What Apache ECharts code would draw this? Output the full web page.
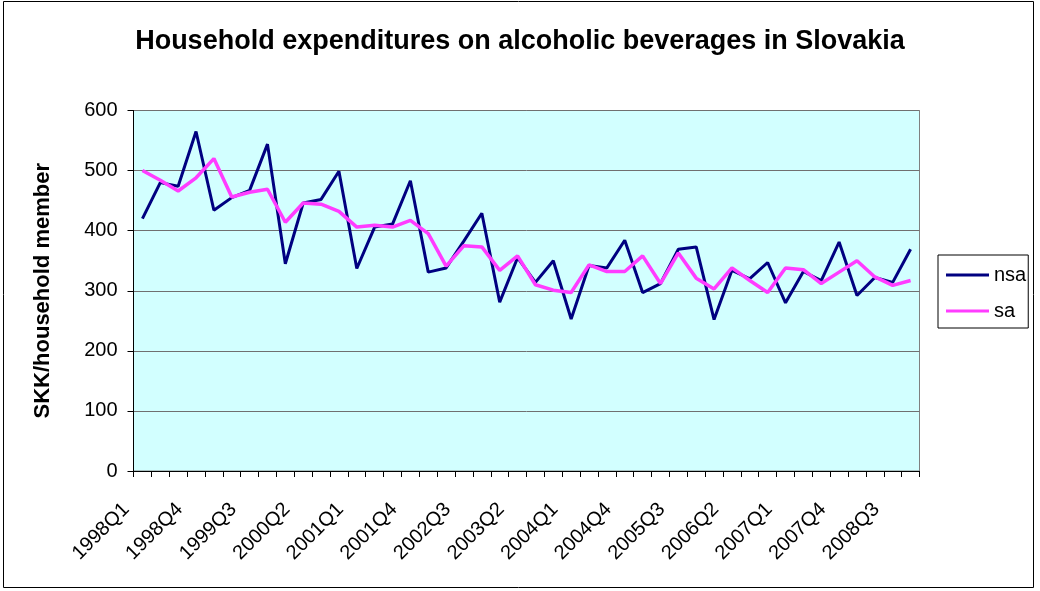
<!DOCTYPE html>
<html>
<head>
<meta charset="utf-8">
<script src="https://cdn.jsdelivr.net/npm/echarts@6/dist/echarts.min.js"></script>
<style>
  html, body { margin: 0; padding: 0; background: #ffffff; }
  #chart { width: 1040px; height: 591px; }
</style>
</head>
<body>
<div id="chart"></div>
<script>
// Quarterly periods
const quarters = [
  '1998Q1','1998Q2','1998Q3','1998Q4','1999Q1','1999Q2','1999Q3','1999Q4',
  '2000Q1','2000Q2','2000Q3','2000Q4','2001Q1','2001Q2','2001Q3','2001Q4',
  '2002Q1','2002Q2','2002Q3','2002Q4','2003Q1','2003Q2','2003Q3','2003Q4',
  '2004Q1','2004Q2','2004Q3','2004Q4','2005Q1','2005Q2','2005Q3','2005Q4',
  '2006Q1','2006Q2','2006Q3','2006Q4','2007Q1','2007Q2','2007Q3','2007Q4',
  '2008Q1','2008Q2','2008Q3','2008Q4'
];

// Not seasonally adjusted (SKK per household member)
const nsa = [
  420, 480, 474, 565, 434, 455, 467, 544, 345, 446, 452, 499,
  337, 406, 411, 483, 331, 338, 383, 429, 281, 355, 314, 350,
  253, 342, 338, 384, 297, 312, 369, 373, 252, 334, 320, 347,
  280, 332, 317, 381, 292, 322, 314, 369
];

// Seasonally adjusted (SKK per household member)
const sa = [
  500, 484, 466, 488, 520, 456, 464, 469, 414, 446, 444, 432,
  406, 409, 406, 417, 395, 341, 375, 373, 334, 358, 310, 301,
  297, 343, 332, 332, 358, 312, 363, 321, 303, 338, 317, 297,
  338, 335, 312, 331, 350, 323, 309, 317
];

const FONT = 'Arial, "Liberation Sans", sans-serif';

const chart = echarts.init(document.getElementById('chart'), null, { renderer: 'canvas' });

chart.setOption({
  animation: false,
  backgroundColor: '#ffffff',
  textStyle: { fontFamily: FONT, color: '#000' },
  title: {
    text: 'Household expenditures on alcoholic beverages in Slovakia',
    left: 'center',
    top: 23,
    textStyle: { fontFamily: FONT, fontSize: 27, fontWeight: 'bold', color: '#000' }
  },
  graphic: [{
    type: 'rect',
    shape: { x: 3.5, y: 1.5, width: 1030, height: 586 },
    style: { fill: 'none', stroke: '#000', lineWidth: 1 },
    silent: true,
    z: 100
  }],
  legend: {
    orient: 'vertical',
    left: 938,
    top: 255,
    padding: [10, 2, 7, 8],
    itemGap: 16,
    itemWidth: 43,
    itemHeight: 3,
    borderColor: '#000',
    borderWidth: 1,
    textStyle: { fontFamily: FONT, fontSize: 20, color: '#000' },
    data: [
      { name: 'nsa', icon: 'rect' },
      { name: 'sa', icon: 'rect' }
    ]
  },
  grid: {
    left: 133.5,
    right: 120.5,
    top: 110.5,
    bottom: 120,
    show: true,
    backgroundColor: '#D2FFFF',
    borderColor: '#808080',
    borderWidth: 1
  },
  xAxis: {
    type: 'category',
    data: quarters,
    boundaryGap: true,
    axisLine: { show: true, lineStyle: { color: '#000', width: 1 } },
    axisTick: { show: true, interval: 0, length: 6, lineStyle: { color: '#000' } },
    axisLabel: {
      interval: 2,
      rotate: 45,
      margin: 19,
      padding: [0, 23, 0, 0],
      fontFamily: FONT,
      fontSize: 20,
      color: '#000'
    },
    splitLine: { show: false }
  },
  yAxis: {
    type: 'value',
    min: 0,
    max: 600,
    interval: 100,
    name: 'SKK/household member',
    nameLocation: 'middle',
    nameGap: 80,
    nameTextStyle: { fontFamily: FONT, fontSize: 22, fontWeight: 'bold', color: '#000' },
    axisLine: { show: true, lineStyle: { color: '#000', width: 1 } },
    axisTick: { show: true, length: 6, lineStyle: { color: '#000' } },
    axisLabel: { margin: 16, fontFamily: FONT, fontSize: 20, color: '#000' },
    splitLine: { show: true, lineStyle: { color: '#707070', width: 1 } }
  },
  series: [
    {
      name: 'nsa',
      type: 'line',
      data: nsa,
      symbol: 'none',
      color: '#000080',
      lineStyle: { color: '#000080', width: 3 }
    },
    {
      name: 'sa',
      type: 'line',
      data: sa,
      symbol: 'none',
      color: '#FF3CFF',
      lineStyle: { color: '#FF3CFF', width: 3.5 }
    }
  ]
});
</script>
</body>
</html>
